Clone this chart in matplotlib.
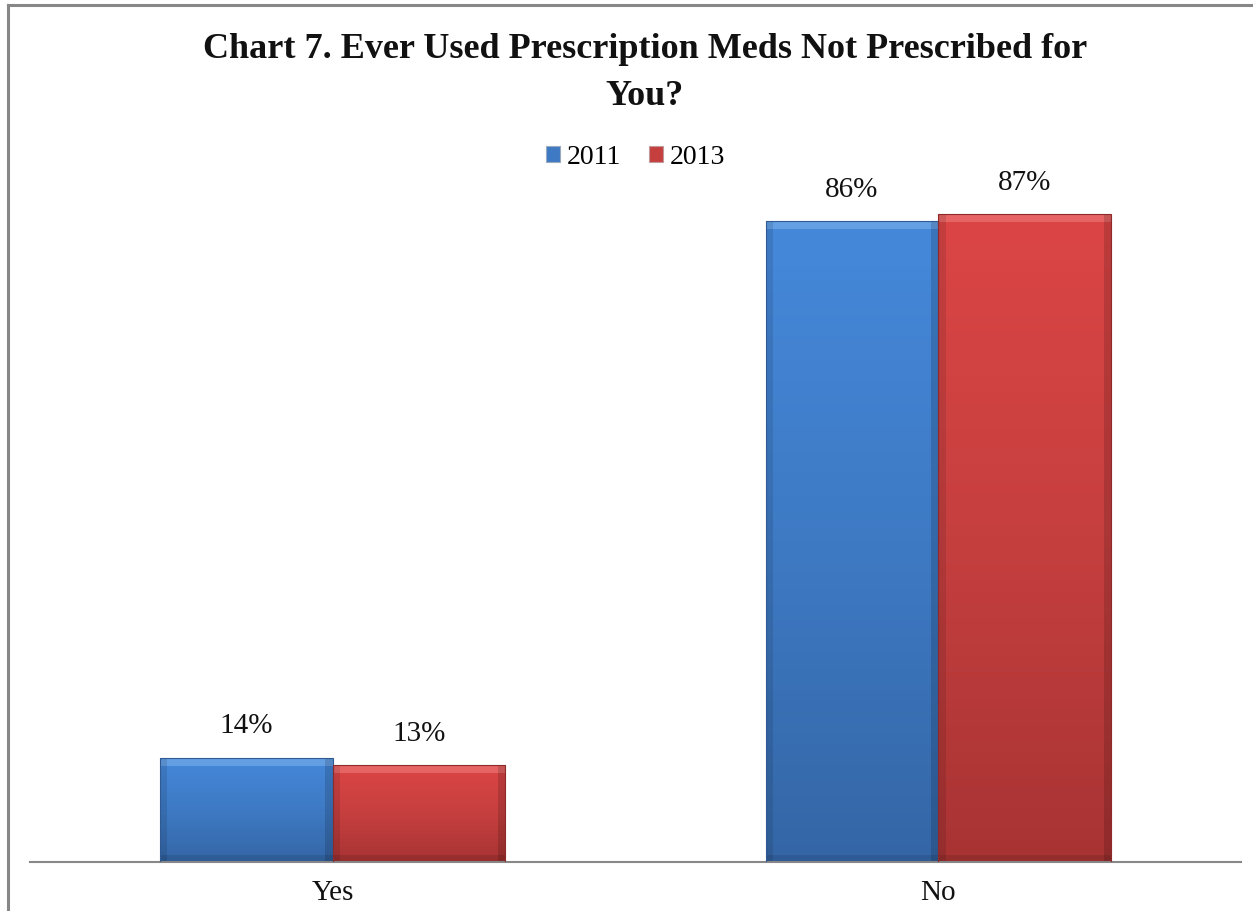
import matplotlib
matplotlib.use("Agg")
import matplotlib.pyplot as plt
import numpy as np
from matplotlib.patches import Patch
from matplotlib.lines import Line2D
from matplotlib.colors import LinearSegmentedColormap

categories = ["Yes", "No"]
years = ["2011", "2013"]
values_2011 = [14, 86]
values_2013 = [13, 87]
labels_2011 = ["14%", "86%"]
labels_2013 = ["13%", "87%"]
title = "Chart 7. Ever Used Prescription Meds Not Prescribed for\nYou?"

W, H = 1253, 911
fig = plt.figure(figsize=(W / 100, H / 100), dpi=100)
plt.rcParams['font.family'] = ['Liberation Serif', 'DejaVu Serif']

ax = fig.add_axes([30 / W, 49 / H, 1211 / W, 745 / H])
ax.set_xlim(-0.5, 1.5)
ax.set_ylim(0, 100)

x = np.arange(len(categories))
bw = 0.285

blue_cmap = LinearSegmentedColormap.from_list("b", ["#3466a6", "#3e7ac4", "#4588da"])
red_cmap = LinearSegmentedColormap.from_list("r", ["#a83333", "#c63f3f", "#dc4545"])

series = [
    (values_2011, labels_2011, -bw / 2, blue_cmap, "#2f5a94", "#7fb4ee"),
    (values_2013, labels_2013, bw / 2, red_cmap, "#8e2a2a", "#f08080"),
]
grad = np.linspace(0, 1, 256).reshape(-1, 1)
for vals, labs, off, cmap, edge, hi in series:
    bars = ax.bar(x + off, vals, bw, color="none", edgecolor=edge, linewidth=0.8, zorder=3)
    for b, lab in zip(bars, labs):
        bx, by, bwid, bh = b.get_x(), b.get_y(), b.get_width(), b.get_height()
        im = ax.imshow(grad, cmap=cmap, aspect="auto", origin="lower",
                       extent=[bx, bx + bwid, by, by + bh], zorder=2)
        im.set_clip_path(b)
        # bevel highlights: top strip and dark side strips
        ax.fill_between([bx, bx + bwid], by + bh - 1.1, by + bh, color=hi, alpha=0.55, zorder=2.5, linewidth=0)
        ax.fill_between([bx, bx + 0.012], by, by + bh, color="black", alpha=0.10, zorder=2.5, linewidth=0)
        ax.fill_between([bx + bwid - 0.012, bx + bwid], by, by + bh, color="black", alpha=0.14, zorder=2.5, linewidth=0)
        ax.fill_between([bx, bx + bwid], by, by + 0.9, color="black", alpha=0.10, zorder=2.5, linewidth=0)
        ax.annotate(lab, (bx + bwid / 2, by + bh), xytext=(0, 22.5), textcoords="offset points",
                    ha="center", va="center", fontsize=21, color="#111111")

for s in ["top", "right", "left"]:
    ax.spines[s].set_visible(False)
ax.spines["bottom"].set_color("#888888")
ax.spines["bottom"].set_linewidth(1.5)
ax.set_yticks([])
ax.set_xticks(x)
ax.set_xticklabels(categories, fontsize=21, color="#111111")
ax.tick_params(axis="x", length=0, pad=13)
ax.set_xlim(-0.5, 1.5)

fig.text(645 / W, 1 - 73 / H, title, ha="center", va="center", fontsize=26,
         fontweight="bold", linespacing=1.55, color="#111111")

handles = [Patch(facecolor="#3e7ac4", edgecolor="#9aa9c0", linewidth=0.8),
           Patch(facecolor="#c63f3f", edgecolor="#c09a9a", linewidth=0.8)]
fig.legend(handles, years, loc="center", bbox_to_anchor=(636 / W, 1 - 157 / H), ncol=2,
           frameon=False, fontsize=20, handlelength=0.5, handleheight=0.5,
           handletextpad=0.25, columnspacing=1.0)

# figure border (left and top)
fig.add_artist(Line2D([7.5 / W, 7.5 / W], [0, 1 - 5 / H], color="#878787", linewidth=2.2,
                      transform=fig.transFigure, solid_capstyle="projecting"))
fig.add_artist(Line2D([7.5 / W, 1], [1 - 5 / H, 1 - 5 / H], color="#878787", linewidth=2.2,
                      transform=fig.transFigure, solid_capstyle="projecting"))

fig.savefig("out.png", dpi=100)
